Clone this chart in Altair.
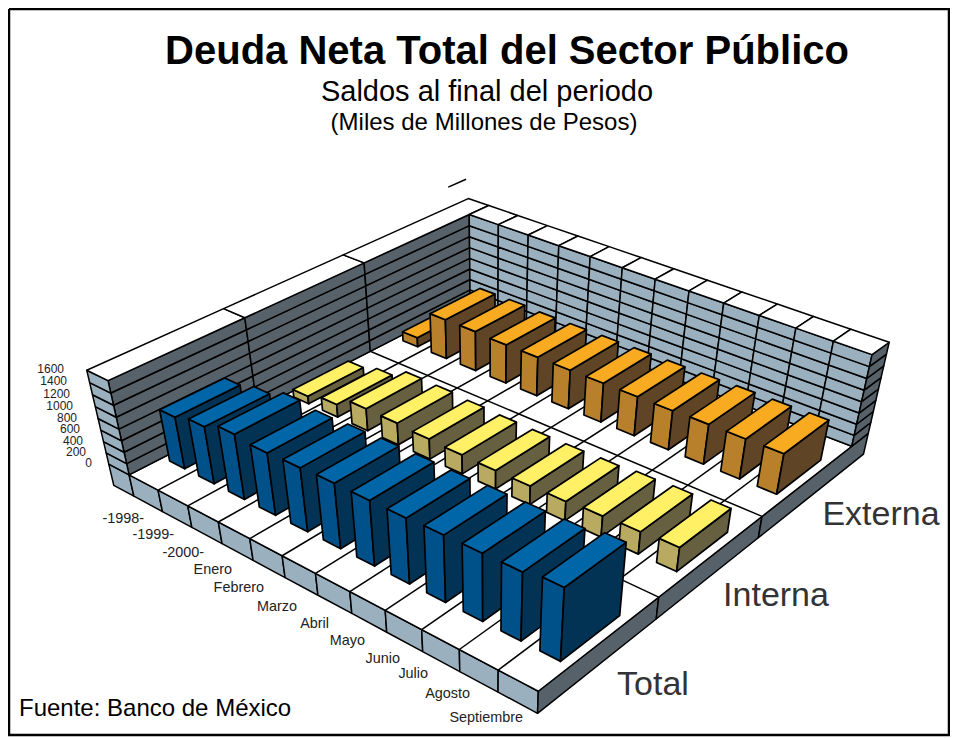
import numpy as np
import pandas as pd
import altair as alt

# ---------- data ----------
categories = ["-1998-", "-1999-", "-2000-", "Enero", "Febrero", "Marzo", "Abril",
              "Mayo", "Junio", "Julio", "Agosto", "Septiembre"]
series_names = ["Total", "Interna", "Externa"]
total = [900, 990, 1120, 1070, 1090, 1110, 1110, 1110, 1130, 1140, 1150, 1225]
interna = [140, 230, 400, 390, 360, 340, 330, 330, 340, 370, 390, 420]
externa = [170, 720, 720, 700, 700, 700, 700, 700, 700, 710, 710, 715]
z_ticks = [0, 200, 400, 600, 800, 1000, 1200, 1400, 1600]

# ---------- box dimensions ----------
H = 1600.0
TU, TV, S = 0.72, 0.2, 390.0

# ---------- camera calibration: (cell u, cell v, value z) <-> page pixel ----------
calib = [
    (0, 0, 0, 130, 474), (12, 0, 0, 538, 691), (12, 3, 0, 850, 445),
    (0, 0, H, 108, 380), (12, 3, H, 872, 355), (0, 3, H, 469, 215),
    (-TU, 0, H, 86, 370), (12, 3 + TV, H, 891, 342), (-TU, 3 + TV, H, 469, 198),
    (-TU, 0, 0, 109, 465), (12, 0, -S, 537, 714), (-TU, 0, -S, 113, 487),
    (12, 3 + TV, -S, 865, 453),
    (3, 3, H, 559, 246), (6, 3, H, 655, 280), (9, 3, H, 758, 317),
    (4, 0, 0, 250, 538), (9, 0, 0, 422, 630), (11, 0, 0, 499, 670),
    (12, 1, 0, 658, 597), (12, 2, 0, 762, 517),
    (0, 1, H, 247, 316), (0, 2, H, 362, 263),
]
rows = []
for u, v, z, px, py in calib:
    X = [u / 12, v / 3, z / H, 1]
    x, y = px / 1000, py / 1000
    rows.append(X + [0, 0, 0, 0] + [-x * c for c in X])
    rows.append([0, 0, 0, 0] + X + [-y * c for c in X])
P = np.linalg.svd(np.array(rows))[2][-1].reshape(3, 4)


def pr(u, v, z):
    q = P @ np.array([u / 12, v / 3, z / H, 1])
    return [float(q[0] / q[2] * 1000 - 8), float(q[1] / q[2] * 1000 - 8)]


features = []


def poly(pts, fill, sw=1.5):
    ring = [pr(*p) for p in pts]
    ring.append(ring[0])
    features.append({"type": "Feature", "geometry": {"type": "Polygon", "coordinates": [ring]},
                     "properties": {"fill": fill, "sw": sw}})


def line(a, b, sw=1.5):
    features.append({"type": "Feature",
                     "geometry": {"type": "LineString", "coordinates": [pr(*a), pr(*b)]},
                     "properties": {"fill": "transparent", "sw": sw}})


LIGHT, DARK, WHITE = "#9ab0be", "#566169", "#ffffff"

# slab front and side
edges_u = [-TU] + list(range(0, 13))
for a, b in zip(edges_u[:-1], edges_u[1:]):
    poly([(a, 0, -S), (b, 0, -S), (b, 0, 0), (a, 0, 0)], LIGHT)
edges_v = [0, 1, 2, 3 + TV]
for a, b in zip(edges_v[:-1], edges_v[1:]):
    poly([(12, a, -S), (12, b, -S), (12, b, 0), (12, a, 0)], DARK)
# floor
poly([(0, 0, 0), (12, 0, 0), (12, 3, 0), (0, 3, 0)], WHITE)
for i in range(1, 12):
    line((i, 0, 0), (i, 3, 0))
for j in range(1, 3):
    line((0, j, 0), (12, j, 0))
# walls
bands = list(zip(z_ticks[:-1], z_ticks[1:]))
for j in range(3):
    for a, b in bands:
        poly([(0, j, a), (0, j + 1, a), (0, j + 1, b), (0, j, b)], DARK)
for i in range(12):
    for a, b in bands:
        poly([(i, 3, a), (i + 1, 3, a), (i + 1, 3, b), (i, 3, b)], LIGHT)
for a, b in bands:
    poly([(-TU, 0, a), (0, 0, a), (0, 0, b), (-TU, 0, b)], LIGHT)
    poly([(12, 3, a), (12, 3 + TV, a), (12, 3 + TV, b), (12, 3, b)], DARK)
# rims
poly([(-TU, 0, H), (0, 0, H), (0, 1, H), (-TU, 1, H)], WHITE)
poly([(-TU, 1, H), (0, 1, H), (0, 2, H), (-TU, 2, H)], WHITE)
poly([(-TU, 2, H), (0, 2, H), (0, 3, H), (0, 3 + TV, H), (-TU, 3 + TV, H)], WHITE)
for i in range(12):
    poly([(i, 3, H), (i + 1, 3, H), (i + 1, 3 + TV, H), (i, 3 + TV, H)], WHITE)
line((-TU, 3.0, 1960), (-TU, 3.18, 1960))

# bars
colours = [("#0066a8", "#00508a", "#033354"),
           ("#fff066", "#b8aa60", "#665f40"),
           ("#f8aa20", "#b8802a", "#5f4525")]
series = [total, interna, externa]
U1, U2, V1, V2 = 0.24, 0.76, 0.25, 0.74
for j in (2, 1, 0):
    top, left, right = colours[j]
    for i, val in enumerate(series[j]):
        u1, u2, v1, v2 = i + U1, i + U2, j + V1, j + V2
        poly([(u1, v1, 0), (u2, v1, 0), (u2, v1, val), (u1, v1, val)], left, 1.7)
        poly([(u2, v1, 0), (u2, v2, 0), (u2, v2, val), (u2, v1, val)], right, 1.7)
        poly([(u1, v1, val), (u2, v1, val), (u2, v2, val), (u1, v2, val)], top, 1.7)

shapes = (alt.Chart(alt.Data(values=features))
          .mark_geoshape(stroke="black", strokeJoin="round")
          .encode(fill=alt.Fill("properties.fill:N", scale=None),
                  strokeWidth=alt.StrokeWidth("properties.sw:Q", scale=None))
          .project(type="identity", scale=1, translate=[0, 0]))

# ---------- text ----------
def text_layer(labels, xs, ys, size, align, colour="black", bold=False):
    df = pd.DataFrame({"t": labels, "x": [x - 8 for x in xs], "y": [y - 8 for y in ys]})
    return (alt.Chart(df)
            .mark_text(font="Liberation Sans", fontSize=size, align=align, baseline="middle",
                       color=colour, fontWeight="bold" if bold else "normal")
            .encode(x=alt.X("x:Q", scale=None), y=alt.Y("y:Q", scale=None), text="t:N"))


cat_x = [144, 174, 204, 232, 264, 297, 329, 365, 400, 428, 470, 523]
cat_y = [519, 535, 553, 570, 588, 607, 624, 641, 659, 674, 694, 718]
tick_x = [92, 86, 83, 80, 77, 73, 70, 67, 64]
tick_y = [463, 452, 441, 429, 418, 406, 394, 381, 369]

layers = [
    shapes,
    text_layer(["Deuda Neta Total del Sector Público"], [507], [52], 40, "center", bold=True),
    text_layer(["Saldos al final del periodo"], [487], [92], 29, "center"),
    text_layer(["(Miles de Millones de Pesos)"], [484], [123], 24, "center"),
    text_layer(["Fuente: Banco de México"], [19], [709], 24, "left"),
    text_layer(categories, cat_x, cat_y, 14.4, "right", "#222222"),
    text_layer([str(v) for v in z_ticks], tick_x, tick_y, 12, "right", "#222222"),
    text_layer(series_names, [653, 776, 881], [685, 596, 515], 34, "center", "#333333"),
]
frame_x = [1, 941, 941, 1, 1]
frame_y = [1, 1, 727, 727, 1]
frame = (alt.Chart(pd.DataFrame({"x": frame_x, "y": frame_y, "o": range(5)}))
         .mark_line(color="black", strokeWidth=2.5)
         .encode(x=alt.X("x:Q", scale=None), y=alt.Y("y:Q", scale=None), order="o:Q"))
layers.append(frame)

chart = (alt.layer(*layers)
         .properties(width=942, height=729, padding=0, background="white",
                     autosize=alt.AutoSizeParams(type="none"))
         .configure_view(stroke=None))
chart.save("out.html", embed_options={"renderer": "svg", "actions": False})
